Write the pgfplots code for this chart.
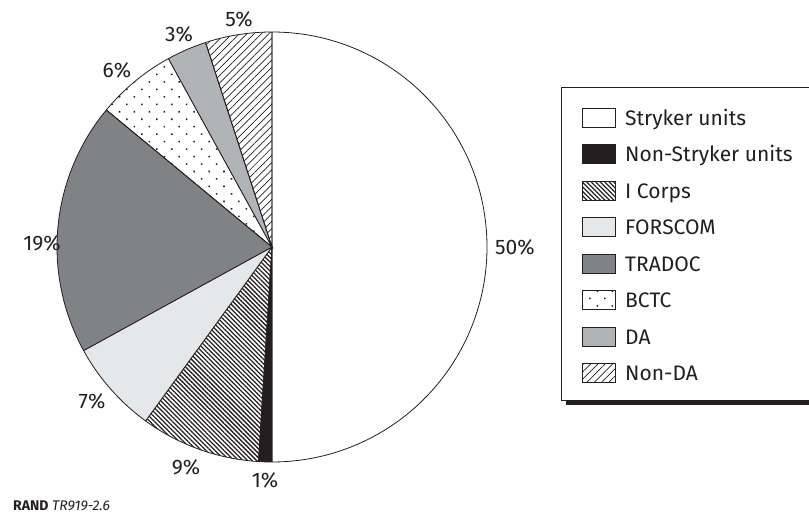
\documentclass[border=0pt]{standalone}
\usepackage{pgfplots}
\pgfplotsset{compat=1.18}
\usetikzlibrary{patterns.meta}
\usepackage{fontspec}
\setmainfont{Fira Sans}

\definecolor{ink}{HTML}{231F20}
\definecolor{forscomgray}{HTML}{E6E7E8}
\definecolor{tradocgray}{HTML}{808285}
\definecolor{dagray}{HTML}{B1B3B6}

\tikzset{
  stryker/.style={fill=white},
  nonstryker/.style={fill=ink},
  icorps/.style={pattern={Lines[angle=-45,distance=3.2pt,line width=1.3pt]},pattern color=ink},
  forscom/.style={fill=forscomgray},
  tradoc/.style={fill=tradocgray},
  bctc/.style={pattern={Dots[angle=45,distance=10.6pt,radius=1.1pt]},pattern color=ink},
  da/.style={fill=dagray},
  nonda/.style={pattern={Lines[angle=45,distance=5.2pt,line width=0.7pt]},pattern color=ink},
}

% percent / style
\def\pievalues{50/stryker,1/nonstryker,9/icorps,7/forscom,19/tradoc,6/bctc,3/da,5/nonda}

\begin{document}
\fontsize{21bp}{25bp}\selectfont
\begin{tikzpicture}
\begin{axis}[
  width=809bp, height=515bp, scale only axis,
  xmin=0, xmax=809, ymin=0, ymax=515,
  hide axis, clip=false,
]
% slices, clockwise from the top
\gdef\cum{0}
\foreach \v/\s in \pievalues {
  \pgfmathsetmacro\a{90-3.6*\cum}
  \pgfmathsetmacro\b{90-3.6*(\cum+\v)}
  \edef\tmp{\noexpand\filldraw[\s, draw=ink, line width=0.8bp]
    (axis cs:272,268) -- ++(\a:215bp) arc[start angle=\a, end angle=\b, radius=215bp] -- cycle;}
  \tmp
  \pgfmathsetmacro\c{\cum+\v}\global\let\cum\c
}

% percentage labels
\node[text=ink] at (axis cs:515,268) {50\%};
\node[text=ink] at (axis cs:265,35) {1\%};
\node[text=ink] at (axis cs:186,48) {9\%};
\node[text=ink] at (axis cs:92,114) {7\%};
\node[text=ink] at (axis cs:42,272) {19\%};
\node[text=ink] at (axis cs:117,445) {6\%};
\node[text=ink] at (axis cs:179,481) {3\%};
\node[text=ink] at (axis cs:239,496) {5\%};

% legend box with shadow
\fill[ink] (axis cs:566,110) rectangle (axis cs:840,424);
\filldraw[fill=white, draw=ink, line width=0.8bp] (axis cs:561,115) rectangle (axis cs:835,428);

\def\legentries{stryker/Stryker units,nonstryker/Non-Stryker units,icorps/I Corps,forscom/FORSCOM,tradoc/TRADOC,bctc/BCTC,da/DA,nonda/Non-DA}
\foreach \s/\t [count=\k from 0] in \legentries {
  \pgfmathsetmacro\yc{397.3-36.5*\k}
  \pgfmathsetmacro\ylo{\yc-9.5}
  \pgfmathsetmacro\yhi{\yc+9.5}
  \pgfmathsetmacro\yb{\yc-7.5}
  \edef\tmp{\noexpand\filldraw[\s, draw=ink, line width=0.8bp]
    (axis cs:582,\ylo) rectangle (axis cs:615,\yhi);
    \noexpand\node[anchor=base west, inner sep=0pt, text=ink] at (axis cs:625,\yb) {\t};}
  \tmp
}

% source line
\node[anchor=base west, inner sep=0pt, text=ink, font=\fontsize{14bp}{16bp}\selectfont]
  at (axis cs:13,5) {\textbf{RAND} \textit{TR919-2.6}};
\end{axis}
\pgfresetboundingbox
\path[use as bounding box] (0,0) rectangle (809bp,515bp);
\end{tikzpicture}
\end{document}
